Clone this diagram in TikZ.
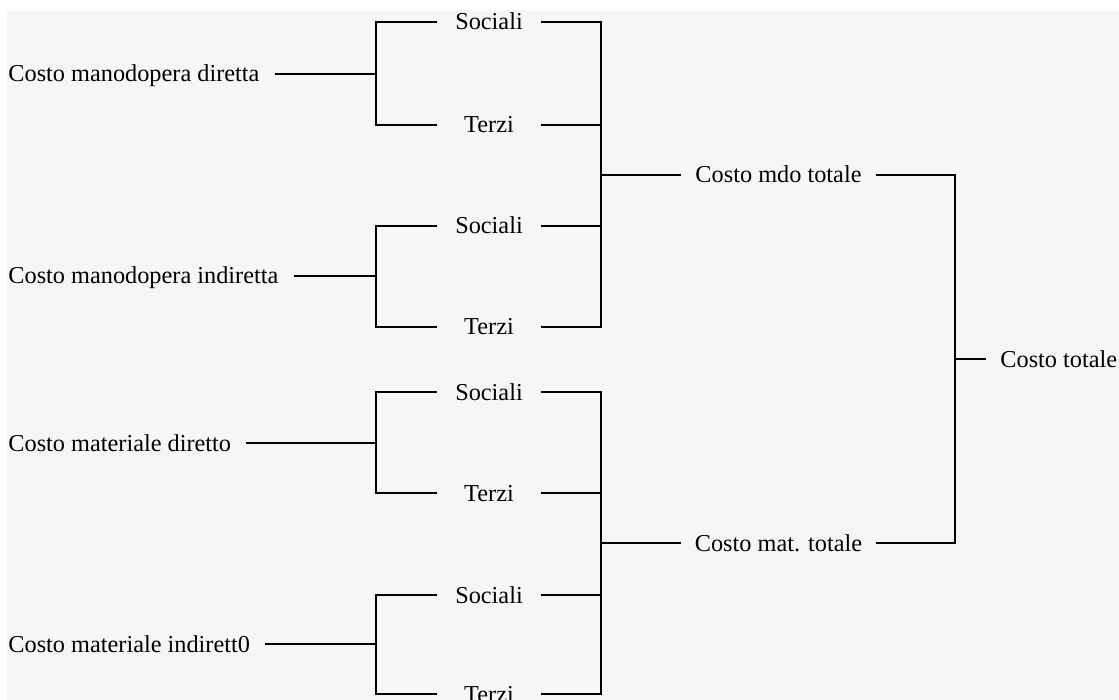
\documentclass[tikz,border=0pt]{standalone}
\usepackage{fontspec}
\setmainfont{Liberation Serif}
\usetikzlibrary{positioning}
\definecolor{paper}{HTML}{F6F6F6}

\begin{document}
\begin{tikzpicture}[x=0.5pt,y=-0.5pt]
\tikzstyle{label} = [
	inner sep=0pt,
	text height=10.6pt, %same height for every text
	text depth=2.6pt,
	font=\fontsize{12.15}{14}\selectfont
];
\tikzstyle{leaf} = [label, anchor=west];
\tikzstyle{part} = [label, minimum width=53pt];
\tikzstyle{subtotal} = [label, minimum width=98.5pt];
\tikzstyle{total} = [label, anchor=west, inner xsep=7.5pt];
\tikzstyle{wire} = [line width=1.15pt, line cap=rect, line join=miter];

\useasboundingbox (0,0) rectangle (1119,700);
\fill[white] (0,0) rectangle (1119,700);
\fill[paper] (7,10) rectangle (1119,700);

\coordinate (colA) at (376,0);
\coordinate (colB) at (601,0);
\coordinate (colC) at (955,0);

\begin{scope}
	\node[leaf](L1) at (8, 74) {Costo manodopera diretta};
	\node[leaf](L2) at (8, 276) {Costo manodopera indiretta};
	\node[leaf](L3) at (8, 443) {Costo materiale diretto};
	\node[leaf](L4) at (8, 644) {Costo materiale indirett0};

	\node[part](S1) at (489, 22) {Sociali};
	\node[part](T1) at (489, 125) {Terzi};
	\node[part](S2) at (489, 226) {Sociali};
	\node[part](T2) at (489, 327) {Terzi};
	\node[part](S3) at (489, 392) {Sociali};
	\node[part](T3) at (489, 493) {Terzi};
	\node[part](S4) at (489, 595) {Sociali};
	\node[part](T4) at (489, 694) {Terzi};

	\node[subtotal](M1) at (778.5, 175) {Costo mdo totale};
	\node[subtotal](M2) at (778.5, 543) {Costo mat. totale};

	\node[total](CT) at (985, 359) {Costo totale};
\end{scope}

% first split
\foreach \g in {1,...,4} {
	\draw[wire] ([xshift=8pt]L\g.east) -- (L\g -| colA);
	\draw[wire] (S\g.west) -| (colA |- T\g) -- (T\g.west);
}

% subtotals
\draw[wire] (S1.east) -| (colB |- T2) -- (T2.east);
\draw[wire] (T1.east) -- (T1 -| colB);
\draw[wire] (S2.east) -- (S2 -| colB);
\draw[wire] (M1.west) -- (M1 -| colB);

\draw[wire] (S3.east) -| (colB |- T4) -- (T4.east);
\draw[wire] (T3.east) -- (T3 -| colB);
\draw[wire] (S4.east) -- (S4 -| colB);
\draw[wire] (M2.west) -- (M2 -| colB);

% total
\draw[wire] (M1.east) -| (colC |- M2) -- (M2.east);
\draw[wire] (CT.west) -- (CT -| colC);

\end{tikzpicture}
\end{document}
